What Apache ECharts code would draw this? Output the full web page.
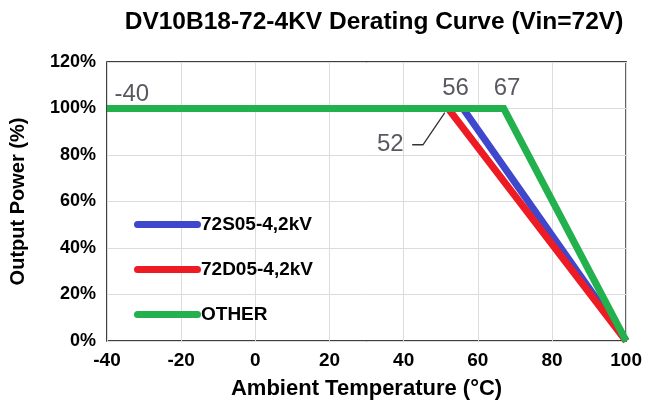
<!DOCTYPE html>
<html><head><meta charset="utf-8">
<script src="https://cdn.jsdelivr.net/npm/echarts@6/dist/echarts.min.js"></script>
<style>html,body{margin:0;padding:0;background:#fff}#c{width:645px;height:407px}</style>
</head><body><div id="c"></div>
<script>
const seriesNames = ['72S05-4,2kV', '72D05-4,2kV', 'OTHER'];
const seriesColors = ['#3f48cc', '#ed1c24', '#22b14c'];
const s72S05 = [[-40, 100], [56, 100], [100, 0]];
const s72D05 = [[-40, 100], [52, 100], [100, 0]];
const sOther = [[-40, 100], [67, 100], [100, 0]];
const annotations = [
  { text: '-40', pos: [-33.3, 106.2] },
  { text: '56', pos: [54.0, 108.8] },
  { text: '67', pos: [67.9, 108.8] },
  { text: '52', pos: [36.4, 84.7] }
];
const leader52 = [[42.3, 84.4], [45.2, 84.4], [51.1, 98.2]];
const titleText = 'DV10B18-72-4KV Derating Curve (Vin=72V)';
const xName = 'Ambient Temperature (°C)';
const yName = 'Output Power (%)';

const chart = echarts.init(document.getElementById('c'), null, { renderer: 'canvas' });
const FONT = "'Liberation Sans', Arial, sans-serif";
const legendIcon = 'path://M3.5,0 L63.5,0 A3.5,3.5 0 0 1 63.5,7 L3.5,7 A3.5,3.5 0 0 1 3.5,0 Z';
function lineSeries(name, data, color) {
  return {
    name, type: 'line', data, symbol: 'none',
    lineStyle: { color, width: 7, join: 'miter' }, itemStyle: { color },
    animation: false, z: 3
  };
}
chart.setOption({
  animation: false,
  title: {
    text: titleText, left: 369, top: 5, textAlign: 'center',
    textStyle: { fontFamily: FONT, fontWeight: 'bold', fontSize: 24.5, color: '#000' }
  },
  grid: { left: 104, right: 17, top: 62, bottom: 66, show: true, borderColor: '#000', borderWidth: 1.5 },
  legend: {
    orient: 'vertical', left: 129, top: 210, itemGap: 26,
    itemWidth: 67, itemHeight: 7, icon: legendIcon,
    data: seriesNames,
    textStyle: { fontFamily: FONT, fontWeight: 'bold', fontSize: 19, color: '#000', padding: [0, 0, 0, -5] },
    selectedMode: false
  },
  xAxis: {
    type: 'value', min: -40, max: 100, interval: 20,
    name: xName, nameLocation: 'middle', nameGap: 37,
    nameTextStyle: { fontFamily: FONT, fontWeight: 'bold', fontSize: 22, color: '#000' },
    axisLine: { show: false }, axisTick: { show: false },
    axisLabel: { fontFamily: FONT, fontWeight: 'bold', fontSize: 19, color: '#000', margin: 10 },
    splitLine: { show: true, lineStyle: { color: '#dcdcdc', width: 1 } }
  },
  yAxis: {
    type: 'value', min: 0, max: 120, interval: 20,
    name: yName, nameLocation: 'middle', nameGap: 79,
    nameTextStyle: { fontFamily: FONT, fontWeight: 'bold', fontSize: 20, color: '#000' },
    axisLine: { show: false }, axisTick: { show: false },
    axisLabel: { fontFamily: FONT, fontWeight: 'bold', fontSize: 18, color: '#000', margin: 11, formatter: '{value}%' },
    splitLine: { show: true, lineStyle: { color: '#dcdcdc', width: 1 } }
  },
  series: [
    lineSeries(seriesNames[0], s72S05, seriesColors[0]),
    lineSeries(seriesNames[1], s72D05, seriesColors[1]),
    lineSeries(seriesNames[2], sOther, seriesColors[2]),
    {
      type: 'line', data: leader52, symbol: 'none', silent: true,
      lineStyle: { color: '#333', width: 1.3 }, z: 2, animation: false
    },
    {
      type: 'scatter', symbolSize: 0, silent: true, z: 5,
      data: annotations.map(a => ({ value: a.pos, name: a.text })),
      label: {
        show: true, position: 'inside', formatter: p => p.name,
        fontFamily: FONT, fontSize: 24, color: '#2e2e38'
      }
    }
  ]
});
</script></body></html>
